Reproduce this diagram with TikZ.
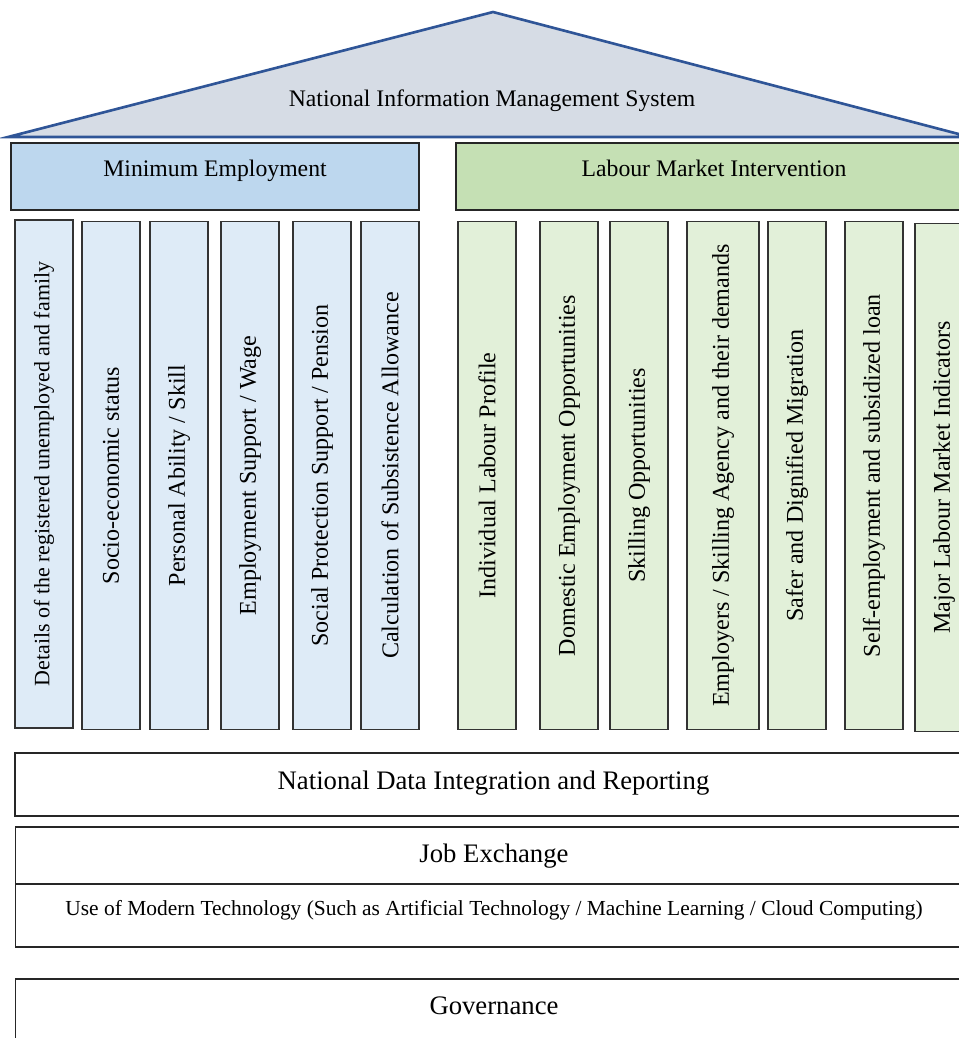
\documentclass[tikz,border=0pt]{standalone}
\usepackage{fontspec}
\setmainfont{Liberation Serif}
\definecolor{roofgray}{HTML}{D6DCE5}
\definecolor{roofblue}{HTML}{2F5597}
\definecolor{meblue}{HTML}{BDD7EE}
\definecolor{melight}{HTML}{DEEBF7}
\definecolor{lmgreen}{HTML}{C5E0B4}
\definecolor{lmlight}{HTML}{E2F0D9}

\begin{document}
\begin{tikzpicture}[x=0.02cm,y=-0.02cm]
        \tikzstyle{head}=[rectangle, draw=black!85, line width=0.7pt, minimum height=1.34cm, inner sep=0pt]
        \tikzstyle{pillar}=[rectangle, draw=black!80, line width=0.7pt, rotate=90, minimum width=10.16cm, minimum height=1.16cm, inner sep=0pt, font=\fontsize{13.7}{16}\selectfont]
        \tikzstyle{band}=[rectangle, draw=black!85, line width=0.7pt, fill=white, minimum width=19.14cm, inner sep=0pt]
        \tikzstyle{txt}=[text height=1.6ex, text depth=0.4ex, inner sep=0pt]
        \tikzstyle{big}=[txt, font=\fontsize{15.2}{18}\selectfont]
        \tikzstyle{mid}=[txt, font=\fontsize{13.5}{16}\selectfont]
        \useasboundingbox (0,0) rectangle (959,1038);
        \clip (0,0) rectangle (959,1038);
        % roof
        \draw[roofblue, fill=roofgray, line width=1.5pt, line join=miter] (8,137) -- (493,12) -- (970,137) -- cycle;
        \node[mid] (nims) at (492,102) {National Information Management System};
        % two heads
        \node[head, fill=meblue, minimum width=8.16cm] (me) at (215,176.5)
          [label={[yshift=0.1cm, mid]center:Minimum Employment}] {};
        \node[head, fill=lmgreen, minimum width=10.32cm] (lmi) at (714,176.5)
          [label={[yshift=0.1cm, mid]center:Labour Market Intervention}] {};
        % pillars, minimum employment
        \node[pillar, fill=melight, font=\fontsize{12.5}{15}\selectfont] (p1) at (44,474) {Details of the registered unemployed and family};
        \node[pillar, fill=melight] (p2) at (111,475.5) {Socio-economic status};
        \node[pillar, fill=melight] (p3) at (179,475.5) {Personal Ability / Skill};
        \node[pillar, fill=melight] (p4) at (250,475.5) {Employment Support / Wage};
        \node[pillar, fill=melight] (p5) at (322,475.5) {Social Protection Support / Pension};
        \node[pillar, fill=melight] (p6) at (390,475.5) {Calculation of Subsistence Allowance};
        % pillars, labour market
        \node[pillar, fill=lmlight] (p7) at (487,475.5) {Individual Labour Profile};
        \node[pillar, fill=lmlight] (p8) at (569,475.5) {Domestic Employment Opportunities};
        \node[pillar, fill=lmlight] (p9) at (639,475.5) {Skilling Opportunities};
        \node[pillar, fill=lmlight, minimum height=1.44cm] (p10) at (723,475.5) {Employers / Skilling Agency and their demands};
        \node[pillar, fill=lmlight] (p11) at (797,475.5) {Safer and Dignified Migration};
        \node[pillar, fill=lmlight] (p12) at (874,475.5) {Self-employment and subsidized loan};
        \node[pillar, fill=lmlight] (p13) at (944,477.5) {Major Labour Market Indicators};
        % base layers
        \node[band, minimum height=1.26cm] (ndir) at (493.5,784.5) [label={[yshift=0.0cm, big]center:National Data Integration and Reporting}] {};
        \node[band, minimum height=1.14cm] (jobx) at (494,855.5) [label={[yshift=-0.04cm, big]center:Job Exchange}] {};
        \node[band, minimum height=1.26cm] (tech) at (494,915.5)
          [label={[yshift=0.09cm, txt, font=\fontsize{12.2}{14}\selectfont]center:Use of Modern Technology (Such as Artificial Technology / Machine Learning / Cloud Computing)}] {};
        \node[band, minimum height=1.6cm] (gov) at (494,1019) [label={[yshift=0.19cm, big]center:Governance}] {};
\end{tikzpicture}
\end{document}
